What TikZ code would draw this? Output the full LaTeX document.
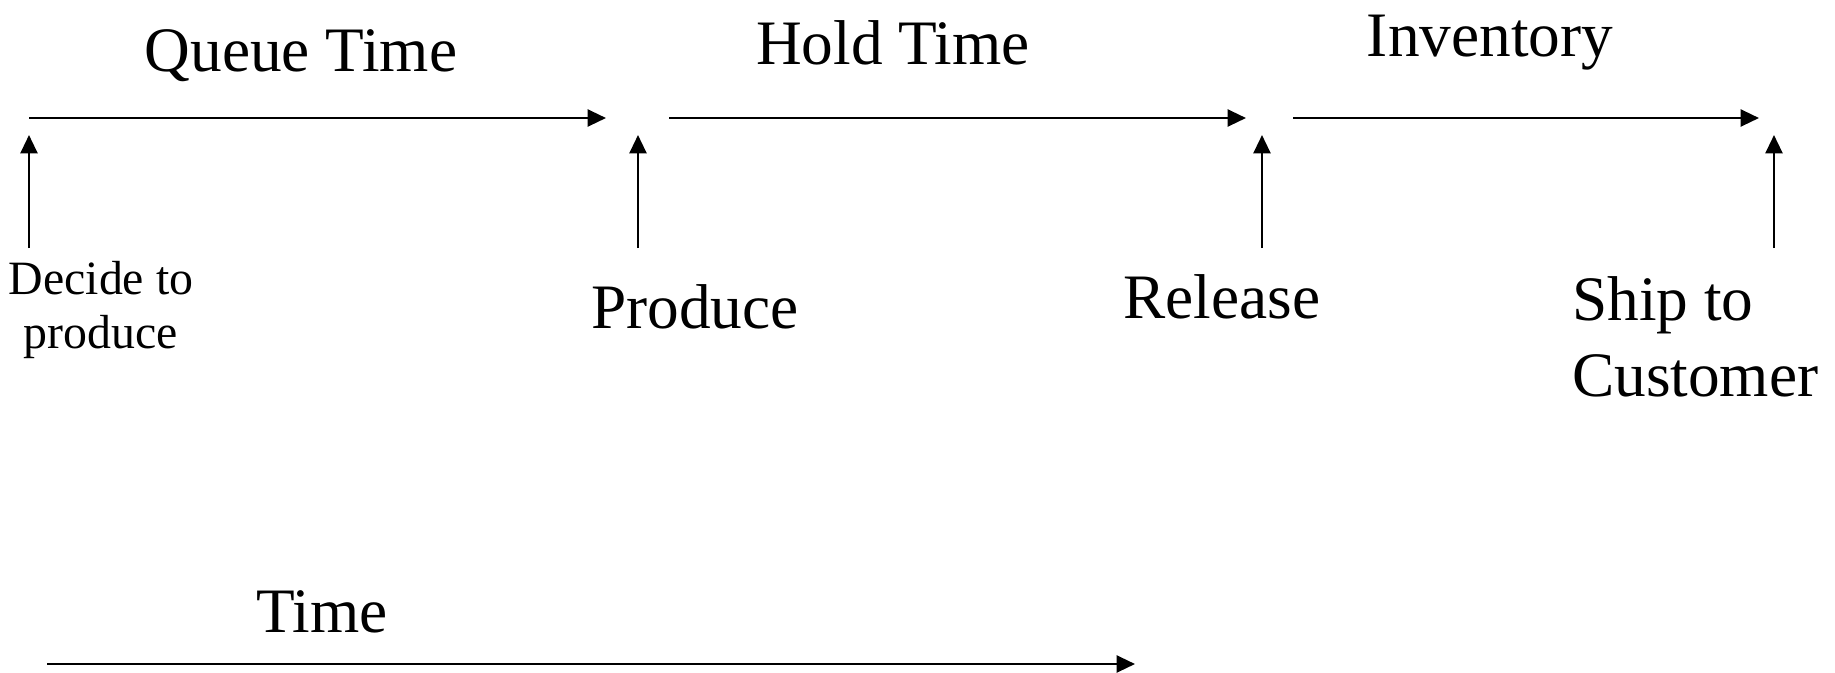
\documentclass[tikz,border=0pt]{standalone}
\usepackage{fontspec}
\setmainfont{Liberation Serif}
\usetikzlibrary{positioning}
\usetikzlibrary{arrows.meta}

\begin{document}
\begin{tikzpicture}[x=0.01cm, y=-0.01cm, line width=0.7pt,
        >={Triangle[length=5.2pt,width=4.8pt]},
        big/.style={font=\fontsize{18}{21.6}\selectfont, inner sep=0pt, anchor=base},
        small/.style={font=\fontsize{13.6}{15.1}\selectfont, inner sep=0pt, align=center, anchor=base}]
    \useasboundingbox (0,0) rectangle (1835,672);

    % the three phases
    \coordinate (qs) at (29,118);   \coordinate (qe) at (606,118);
    \coordinate (hs) at (669,118);  \coordinate (he) at (1246,118);
    \coordinate (is) at (1293,118); \coordinate (ie) at (1759,118);
    \node[big] (queue) at (301,71) {Queue Time};
    \node[big] (hold) at (893,64) {Hold Time};
    \node[big] (inv) at (1490,56) {Inventory};
    \draw[->] (qs) -- (qe);
    \draw[->] (hs) -- (he);
    \draw[->] (is) -- (ie);

    % events (base of a two-line node sits on its last line)
    \coordinate (d0) at (29,248);   \coordinate (d1) at (29,135);
    \coordinate (p0) at (638,248);  \coordinate (p1) at (638,135);
    \coordinate (r0) at (1262,248); \coordinate (r1) at (1262,135);
    \coordinate (s0) at (1774,248); \coordinate (s1) at (1774,135);
    \draw[->] (d0) -- (d1);
    \draw[->] (p0) -- (p1);
    \draw[->] (r0) -- (r1);
    \draw[->] (s0) -- (s1);
    \node[small] (decide) at (101,348) {Decide to\\produce};
    \node[big] (produce) at (695,328) {Produce};
    \node[big] (release) at (1222,318) {Release};
    \node[big, align=left, anchor=base west] (ship) at (1571,396) {Ship to\\Customer};

    % time axis
    \coordinate (t0) at (47,664); \coordinate (t1) at (1135,664);
    \node[big] (time) at (322,632) {Time};
    \draw[->] (t0) -- (t1);
\end{tikzpicture}
\end{document}
